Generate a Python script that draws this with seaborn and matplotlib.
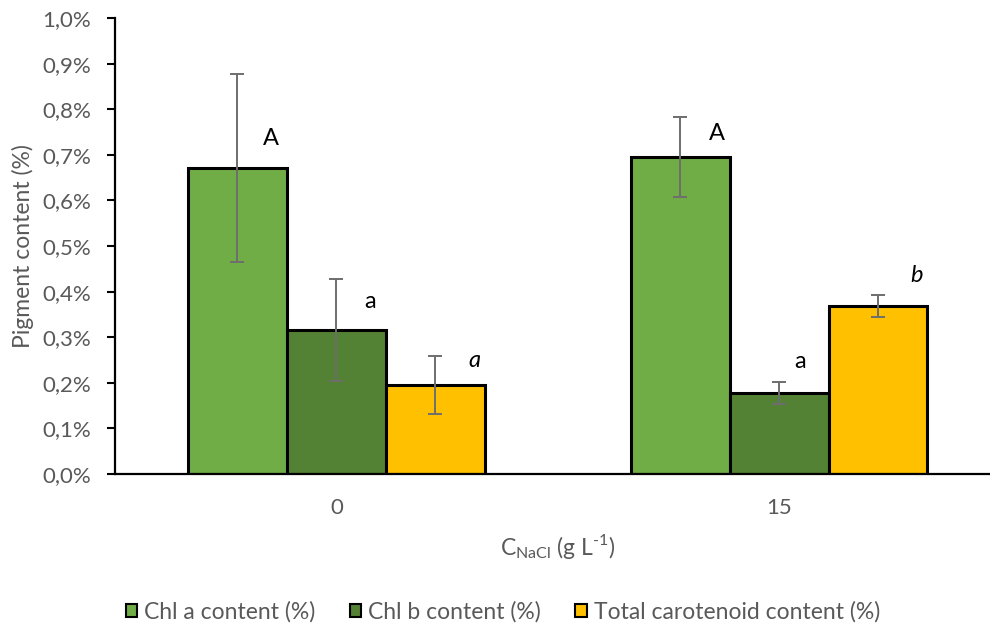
import matplotlib
matplotlib.use("Agg")
import matplotlib.pyplot as plt
import seaborn as sns
import pandas as pd
from matplotlib.ticker import FixedLocator, FuncFormatter

# Pigment content (%) per NaCl concentration, mean and error
nacl_levels = ["0", "15"]
series_names = ["Chl a content (%)", "Chl b content (%)", "Total carotenoid content (%)"]
chl_a = [0.671, 0.695]
chl_b = [0.315, 0.178]
carotenoid = [0.195, 0.368]
chl_a_err = [0.207, 0.087]
chl_b_err = [0.112, 0.024]
carotenoid_err = [0.063, 0.024]
# significance letters (carotenoid letters set in italics)
chl_a_letters = ["A", "A"]
chl_b_letters = ["a", "a"]
carotenoid_letters = ["a", "b"]
y_ticks = [0.0, 0.1, 0.2, 0.3, 0.4, 0.5, 0.6, 0.7, 0.8, 0.9, 1.0]

colors = ["#70AD47", "#548235", "#FFC000"]
text_grey = "#595959"

sns.set_style("white")
plt.rcParams["font.family"] = ["Lato", "DejaVu Sans"]
plt.rcParams["mathtext.fontset"] = "custom"
plt.rcParams["mathtext.rm"] = "Lato"

means = [chl_a, chl_b, carotenoid]
errs = [chl_a_err, chl_b_err, carotenoid_err]
letters = [chl_a_letters, chl_b_letters, carotenoid_letters]

rows = []
for name, vals in zip(series_names, means):
    for lvl, v in zip(nacl_levels, vals):
        rows.append({"NaCl": lvl, "Series": name, "Content": v})
df = pd.DataFrame(rows)

fig = plt.figure(figsize=(9.9, 6.29), dpi=100)
ax = fig.add_axes([115 / 990, 1 - 474 / 629, 885.5 / 990, 456 / 629])

sns.barplot(data=df, x="NaCl", y="Content", hue="Series", order=nacl_levels,
            hue_order=series_names, palette=colors, saturation=1, width=0.67, gap=0,
            edgecolor="black", linewidth=2.2, errorbar=None, legend=False, ax=ax)

bar_containers = list(ax.containers)

# error bars and letters, placed on the seaborn bar geometry
label_offsets = [[(33, 30), (37, 24)], [(34, 29), (21, 31)], [(39, 25), (39, 31)]]
for i, cont in enumerate(bar_containers):
    for j, bar in enumerate(cont):
        xc = bar.get_x() + bar.get_width() / 2
        top = bar.get_height()
        ax.errorbar(xc, top, yerr=errs[i][j], fmt="none", ecolor="#6E6E6E",
                    elinewidth=1.4, capsize=5, capthick=1.4, zorder=5)
        dx, dy = label_offsets[i][j]
        ax.annotate(letters[i][j], (xc, top), xytext=(dx, dy), textcoords="offset pixels",
                    ha="center", va="center", fontsize=17, color="black",
                    style="italic" if i == 2 else "normal")

ax.set_xlim(-0.5, 1.5)
ax.set_ylim(0, 1.0)
ax.yaxis.set_major_locator(FixedLocator(y_ticks))
ax.yaxis.set_major_formatter(FuncFormatter(lambda v, p: f"{v:.1f}%".replace(".", ",")))
ax.tick_params(axis="y", which="major", left=True, length=6, width=1.5, color="black",
               labelsize=16, labelcolor=text_grey, pad=11, direction="out")
ax.tick_params(axis="x", bottom=False, labelsize=16, labelcolor=text_grey, pad=14)

for side in ["top", "right"]:
    ax.spines[side].set_visible(False)
ax.spines["left"].set_color("black")
ax.spines["left"].set_linewidth(1.6)
ax.spines["bottom"].set_color("black")
ax.spines["bottom"].set_linewidth(1.6)

ax.set_ylabel("Pigment content (%)", fontsize=16.5, color=text_grey, labelpad=6)
ax.set_xlabel(r"C$_\mathregular{NaCl}$ (g L$^{\mathregular{\text{-}1}}$)", fontsize=16.5,
              color=text_grey, labelpad=10)

handles = [bar_containers[k][0] for k in range(3)]
leg = fig.legend(handles, series_names, loc="center", bbox_to_anchor=(0.508, 1 - 612 / 629),
                 ncol=3, frameon=False, fontsize=16.5, handlelength=0.5, handleheight=0.5,
                 handletextpad=0.3, columnspacing=1.5)
for t in leg.get_texts():
    t.set_color(text_grey)
for h in leg.legend_handles:
    h.set_linewidth(1.5)

fig.savefig("out.png", dpi=100)
